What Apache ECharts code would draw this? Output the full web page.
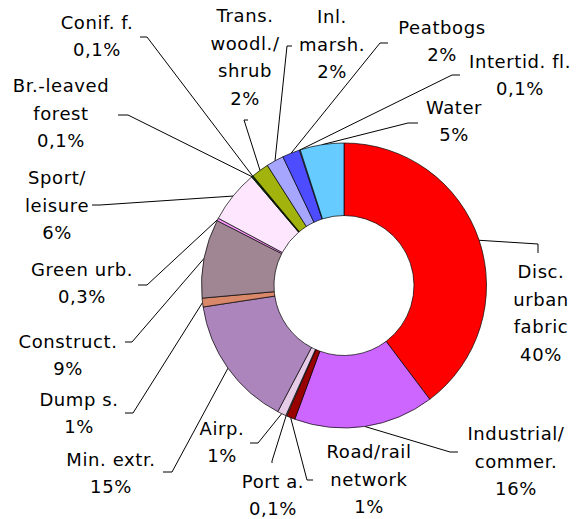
<!DOCTYPE html>
<html>
<head>
<meta charset="utf-8">
<script src="https://cdn.jsdelivr.net/npm/echarts@6/dist/echarts.min.js"></script>
<style>
  html, body { margin: 0; padding: 0; background: #fff; }
  #chart { width: 583px; height: 519px; }
  #chart text { letter-spacing: 0.6px; }
</style>
</head>
<body>
<div id="chart"></div>
<script>
// ---- data ----
const categories = [
  'Disc.\nurban\nfabric', 'Industrial/\ncommer.', 'Road/rail\nnetwork', 'Port a.', 'Airp.',
  'Min. extr.', 'Dump s.', 'Construct.', 'Green urb.', 'Sport/\nleisure',
  'Br.-leaved\nforest', 'Conif. f.', 'Trans.\nwoodl./\nshrub', 'Inl.\nmarsh.', 'Peatbogs',
  'Intertid. fl.', 'Water'
];
const values = [40, 16, 1, 0.1, 1, 15, 1, 9, 0.3, 6, 0.1, 0.1, 2, 2, 2, 0.1, 5];

// ---- styles / layout ----
const colors = [
  '#FF0000', '#CC66FF', '#990000', '#E6CCCC', '#E6CCE6',
  '#AD85BD', '#D9896A', '#A08592', '#FF99FF', '#FFE6FF',
  '#008000', '#004D00', '#A3B30D', '#A6A6FF', '#4D4DFF',
  '#A6A6E6', '#66CCFF'
];
// label block centres
const labelPos = [
  [541, 313], [516, 461], [369, 479], [273, 495], [222, 442],
  [111, 473], [79, 413], [68, 355], [82, 283], [57, 205],
  [61, 113], [97, 36], [245, 57], [332, 44], [442, 41],
  [520, 75], [454, 121]
];
// label line bend point and end point
const lineEnds = [
  [538, 244, 538, 253], [450, 452, 458, 452], [307, 480, 313, 480], [272, 461, 272, 463], [258, 443, 250, 443],
  [172, 472, 163, 472], [133, 413, 125, 413], [132, 342, 125, 342], [147, 285, 138, 285], [100, 205, 92, 205],
  [128, 115, 118, 115], [147, 37, 140, 37], [244, 120, 248, 120], [287, 46, 292, 46], [380, 43, 388, 43],
  [452, 75, 460, 75], [408, 123, 418, 123]
];

function pct(v) { return String(v).replace('.', ',') + '%'; }

const chart = echarts.init(document.getElementById('chart'), null, { renderer: 'svg' });
chart.setOption({
  backgroundColor: '#ffffff',
  animation: false,
  series: [{
    type: 'pie',
    center: [344, 285.5],
    radius: [70, 142.5],
    startAngle: 90,
    clockwise: true,
    avoidLabelOverlap: false,
    silent: true,
    data: categories.map((c, i) => ({ name: c, value: values[i], itemStyle: { color: colors[i] } })),
    itemStyle: { borderColor: '#000', borderWidth: 0.7 },
    label: {
      show: true,
      position: 'outside',
      formatter: (p) => p.name + '\n' + pct(p.value),
      fontFamily: 'DejaVu Sans',
      fontSize: 18,
      lineHeight: 27.5,
      color: '#000',
      align: 'center'
    },
    labelLine: { show: true, smooth: false, lineStyle: { color: '#000', width: 1 } },
    labelLayout: function (params) {
      const i = params.dataIndex;
      const p0 = params.labelLinePoints ? params.labelLinePoints[0] : [labelPos[i][0], labelPos[i][1]];
      const e = lineEnds[i];
      return {
        x: labelPos[i][0],
        y: labelPos[i][1],
        align: 'center',
        verticalAlign: 'middle',
        labelLinePoints: [p0, [e[0], e[1]], [e[2], e[3]]]
      };
    },
    emphasis: { disabled: true }
  }]
});
</script>
</body>
</html>
